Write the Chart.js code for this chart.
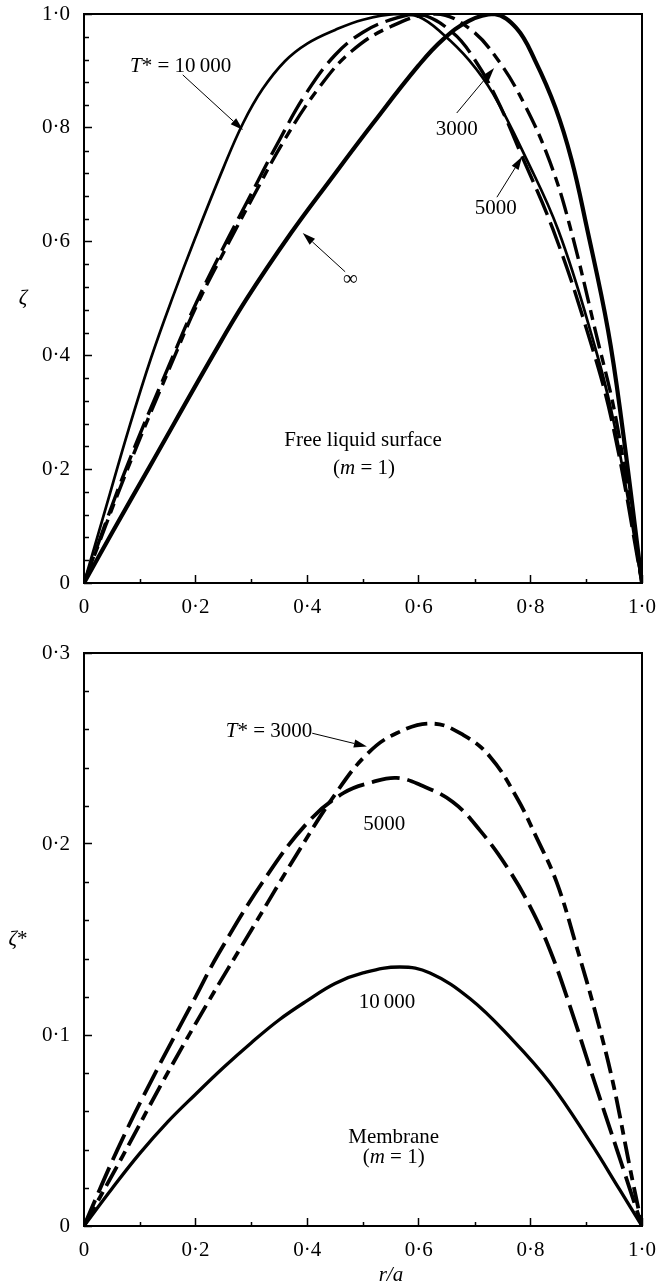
<!DOCTYPE html>
<html>
<head>
<meta charset="utf-8">
<script src="https://cdn.jsdelivr.net/npm/chart.js@4.4.0/dist/chart.umd.min.js"></script>
<style>
  html, body { margin: 0; padding: 0; background: #fff; }
  #wrap { position: relative; width: 659px; height: 1288px; }
  canvas { position: absolute; left: 0; }
  #surface { top: 0; }
  #membrane { top: 625px; }
</style>
</head>
<body>
<div id="wrap">
  <canvas id="surface" width="659" height="625"></canvas>
  <canvas id="membrane" width="659" height="663"></canvas>
</div>
<script>
// ---- axis ticks ----
const rTicks = [0, 0.2, 0.4, 0.6, 0.8, 1.0];
const rTickLabels = ['0', '0·2', '0·4', '0·6', '0·8', '1·0'];
const rMinorTicks = [0.1, 0.3, 0.5, 0.7, 0.9];

const surfZetaTicks = [0, 0.2, 0.4, 0.6, 0.8, 1.0];
const surfZetaLabels = ['0', '0·2', '0·4', '0·6', '0·8', '1·0'];
const surfZetaMinor = [0.04, 0.08, 0.12, 0.16, 0.24, 0.28, 0.32, 0.36, 0.44, 0.48,
                       0.52, 0.56, 0.64, 0.68, 0.72, 0.76, 0.84, 0.88, 0.92, 0.96];

const memZetaTicks = [0, 0.1, 0.2, 0.3];
const memZetaLabels = ['0', '0·1', '0·2', '0·3'];
const memZetaMinor = [0.02, 0.04, 0.06, 0.08, 0.12, 0.14, 0.16, 0.18, 0.22, 0.24, 0.26, 0.28];

// ---- free liquid surface (m = 1): ζ against r/a ----
const surfR10000 = [0, 0.04, 0.08, 0.12, 0.16, 0.2, 0.25, 0.285, 0.32, 0.36, 0.4, 0.45, 0.5, 0.56, 0.6, 0.643, 0.69, 0.733, 0.793, 0.85, 0.907, 0.95, 1.0];
const surfZ10000 = [0, 0.135, 0.27, 0.395, 0.505, 0.608, 0.73, 0.808, 0.868, 0.917, 0.948, 0.972, 0.99, 1.0, 0.995, 0.965, 0.919, 0.86, 0.745, 0.62, 0.445, 0.28, 0];

const surfR5000 = [0, 0.075, 0.16, 0.2, 0.25, 0.294, 0.351, 0.399, 0.45, 0.5, 0.55, 0.6, 0.66, 0.7, 0.74, 0.784, 0.841, 0.901, 0.947, 1.0];
const surfZ5000 = [0, 0.2, 0.4, 0.49, 0.59, 0.673, 0.78, 0.862, 0.928, 0.968, 0.99, 1.0, 0.968, 0.92, 0.85, 0.752, 0.62, 0.445, 0.28, 0];

const surfR3000 = [0, 0.078, 0.163, 0.203, 0.255, 0.3, 0.36, 0.423, 0.48, 0.55, 0.63, 0.69, 0.742, 0.79, 0.835, 0.87, 0.916, 0.955, 1.0];
const surfZ3000 = [0, 0.2, 0.4, 0.49, 0.59, 0.673, 0.78, 0.873, 0.935, 0.978, 1.0, 0.975, 0.919, 0.84, 0.74, 0.63, 0.445, 0.28, 0];

const surfRInf = [0, 0.05, 0.118, 0.231, 0.29, 0.371, 0.441, 0.518, 0.6, 0.643, 0.69, 0.735, 0.775, 0.808, 0.845, 0.874, 0.9, 0.939, 0.964, 1.0];
const surfZInf = [0, 0.088, 0.205, 0.4, 0.497, 0.615, 0.708, 0.808, 0.91, 0.955, 0.988, 1.0, 0.975, 0.919, 0.835, 0.743, 0.63, 0.445, 0.28, 0];

// ---- membrane (m = 1): ζ* against r/a ----
const memR10000 = [0, 0.05, 0.1, 0.15, 0.2, 0.25, 0.3, 0.35, 0.4, 0.45, 0.5, 0.566, 0.62, 0.692, 0.763, 0.835, 0.907, 0.96, 1.0];
const memZ10000 = [0, 0.0195, 0.038, 0.0545, 0.069, 0.083, 0.096, 0.108, 0.118, 0.127, 0.1325, 0.1356, 0.1325, 0.119, 0.099, 0.075, 0.044, 0.019, 0];

const memR5000 = [0, 0.06, 0.124, 0.2, 0.24, 0.32, 0.4, 0.465, 0.518, 0.56, 0.602, 0.661, 0.71, 0.758, 0.8, 0.835, 0.871, 0.912, 0.955, 1.0];
const memZ5000 = [0, 0.04, 0.078, 0.12, 0.142, 0.18, 0.211, 0.2267, 0.2325, 0.2346, 0.231, 0.222, 0.207, 0.188, 0.167, 0.1445, 0.115, 0.078, 0.04, 0];

const memR3000 = [0, 0.07, 0.142, 0.22, 0.3, 0.38, 0.45, 0.507, 0.56, 0.625, 0.68, 0.728, 0.775, 0.81, 0.847, 0.883, 0.919, 0.948, 0.978, 1.0];
const memZ3000 = [0, 0.037, 0.076, 0.116, 0.155, 0.194, 0.226, 0.247, 0.258, 0.263, 0.257, 0.2456, 0.2246, 0.204, 0.18, 0.146, 0.109, 0.075, 0.031, 0];

const FONT = '"Liberation Serif", "Times New Roman", serif';
const INK = '#000';

const pts = (rs, zs) => rs.map((r, i) => ({ x: r, y: zs[i] }));

function curve(data, width, dash) {
  return {
    data, borderColor: INK, borderWidth: width, borderDash: dash || [],
    pointRadius: 0, fill: false, tension: 0.4,
    borderCapStyle: 'butt', borderJoinStyle: 'round'
  };
}

function axis(min, max, values, labels, isX, fitSize) {
  return {
    type: 'linear', min, max, position: isX ? 'bottom' : 'left',
    afterBuildTicks: s => { s.ticks = values.map(v => ({ value: v })); },
    afterFit: s => {
      if (isX) s.height = fitSize; else s.width = fitSize;
      s.paddingTop = 0; s.paddingBottom = 0; s.paddingLeft = 0; s.paddingRight = 0;
    },
    ticks: {
      autoSkip: false, maxRotation: 0, minRotation: 0,
      padding: isX ? 20 : 22, color: INK,
      font: { family: FONT, size: 21 },
      callback: (v, i) => labels[i]
    },
    grid: { drawOnChartArea: false, tickLength: -8, tickColor: INK, tickWidth: 1.5, color: INK },
    border: { display: false }
  };
}

function drawRich(ctx, segs, x, y, align, size) {
  const fonts = segs.map(s => (s.it ? 'italic ' : '') + size + 'px ' + FONT);
  const widths = segs.map((s, i) => { ctx.font = fonts[i]; return ctx.measureText(s.s).width; });
  const total = widths.reduce((a, b) => a + b, 0);
  let sx = align === 'left' ? x : align === 'right' ? x - total : x - total / 2;
  ctx.textAlign = 'left';
  segs.forEach((s, i) => { ctx.font = fonts[i]; ctx.fillText(s.s, sx, y); sx += widths[i]; });
}

function drawArrow(ctx, x1, y1, x2, y2) {
  const ang = Math.atan2(y2 - y1, x2 - x1);
  const L = 13, W = 4;
  const bx = x2 - L * Math.cos(ang), by = y2 - L * Math.sin(ang);
  ctx.beginPath();
  ctx.moveTo(x1, y1);
  ctx.lineTo(bx, by);
  ctx.stroke();
  ctx.beginPath();
  ctx.moveTo(x2, y2);
  ctx.lineTo(bx + W * Math.sin(ang), by - W * Math.cos(ang));
  ctx.lineTo(bx - W * Math.sin(ang), by + W * Math.cos(ang));
  ctx.closePath();
  ctx.fill();
}

// frame, minor ticks, curve labels, arrows and axis titles
function makeDecor(cfg) {
  return {
    id: 'decor',
    afterDraw(chart) {
      const ctx = chart.ctx, xs = chart.scales.x, ys = chart.scales.y, a = chart.chartArea;
      ctx.save();
      ctx.strokeStyle = INK; ctx.fillStyle = INK;
      ctx.lineWidth = 2;
      ctx.strokeRect(a.left, a.top, a.right - a.left, a.bottom - a.top);

      ctx.lineWidth = 1.5;
      ctx.beginPath();
      cfg.minorX.forEach(v => {
        const px = Math.round(xs.getPixelForValue(v)) + 0.5;
        ctx.moveTo(px, a.bottom); ctx.lineTo(px, a.bottom - 4);
      });
      cfg.minorY.forEach(v => {
        const py = Math.round(ys.getPixelForValue(v)) + 0.5;
        ctx.moveTo(a.left, py); ctx.lineTo(a.left + 5, py);
      });
      ctx.stroke();

      ctx.lineWidth = 1;
      cfg.arrows.forEach(ar => {
        drawArrow(ctx, xs.getPixelForValue(ar[0]), ys.getPixelForValue(ar[1]),
                       xs.getPixelForValue(ar[2]), ys.getPixelForValue(ar[3]));
      });

      ctx.textBaseline = 'alphabetic';
      cfg.labels.forEach(l => {
        drawRich(ctx, l.segs, xs.getPixelForValue(l.r), ys.getPixelForValue(l.z), l.align || 'center', 21);
      });

      ctx.textBaseline = 'middle';
      drawRich(ctx, cfg.yTitle, a.left - cfg.yTitleOffset, (a.top + a.bottom) / 2, 'center', 21);
      if (cfg.xTitle) {
        ctx.textBaseline = 'alphabetic';
        drawRich(ctx, cfg.xTitle, xs.getPixelForValue(cfg.xTitleAt), a.bottom + cfg.xTitleDrop, 'center', 21);
      }
      ctx.restore();
    }
  };
}

Chart.defaults.font.family = FONT;

new Chart(document.getElementById('surface'), {
  type: 'line',
  data: {
    datasets: [
      curve(pts(surfRInf, surfZInf), 4.2),
      curve(pts(surfR10000, surfZ10000), 2.7),
      curve(pts(surfR5000, surfZ5000), 3.4, [28, 8]),
      curve(pts(surfR3000, surfZ3000), 3.4, [22, 7, 10, 7])
    ]
  },
  options: {
    responsive: false, animation: false, devicePixelRatio: 1,
    layout: { padding: { top: 14, right: 17, left: 0, bottom: 0 } },
    plugins: { legend: { display: false }, tooltip: { enabled: false } },
    scales: {
      x: axis(0, 1, rTicks, rTickLabels, true, 42),
      y: axis(0, 1, surfZetaTicks, surfZetaLabels, false, 84)
    }
  },
  plugins: [makeDecor({
    minorX: rMinorTicks, minorY: surfZetaMinor,
    arrows: [
      [0.177, 0.893, 0.285, 0.796],
      [0.668, 0.826, 0.735, 0.905],
      [0.74, 0.678, 0.785, 0.749],
      [0.468, 0.547, 0.392, 0.615]
    ],
    labels: [
      { segs: [{ s: 'T', it: true }, { s: '* = 10\u2009000' }], r: 0.0824, z: 0.898, align: 'left' },
      { segs: [{ s: '3000' }], r: 0.668, z: 0.787 },
      { segs: [{ s: '5000' }], r: 0.738, z: 0.6485 },
      { segs: [{ s: '\u221E' }], r: 0.477, z: 0.524 },
      { segs: [{ s: 'Free liquid surface' }], r: 0.5, z: 0.241 },
      { segs: [{ s: '(' }, { s: 'm', it: true }, { s: ' = 1)' }], r: 0.502, z: 0.1916 }
    ],
    yTitle: [{ s: '\u03B6', it: true }], yTitleOffset: 61
  })]
});

new Chart(document.getElementById('membrane'), {
  type: 'line',
  data: {
    datasets: [
      curve(pts(memR10000, memZ10000), 3.3),
      curve(pts(memR5000, memZ5000), 3.8, [28, 8]),
      curve(pts(memR3000, memZ3000), 3.8, [22, 7, 10, 7])
    ]
  },
  options: {
    responsive: false, animation: false, devicePixelRatio: 1,
    layout: { padding: { top: 28, right: 17, left: 0, bottom: 0 } },
    plugins: { legend: { display: false }, tooltip: { enabled: false } },
    scales: {
      x: axis(0, 1, rTicks, rTickLabels, true, 62),
      y: axis(0, 0.3, memZetaTicks, memZetaLabels, false, 84)
    }
  },
  plugins: [makeDecor({
    minorX: rMinorTicks, minorY: memZetaMinor,
    arrows: [
      [0.409, 0.258, 0.507, 0.251]
    ],
    labels: [
      { segs: [{ s: 'T', it: true }, { s: '* = 3000' }], r: 0.409, z: 0.256, align: 'right' },
      { segs: [{ s: '5000' }], r: 0.538, z: 0.2073 },
      { segs: [{ s: '10\u2009000' }], r: 0.543, z: 0.1141 },
      { segs: [{ s: 'Membrane' }], r: 0.555, z: 0.0435 },
      { segs: [{ s: '(' }, { s: 'm', it: true }, { s: ' = 1)' }], r: 0.555, z: 0.033 }
    ],
    yTitle: [{ s: '\u03B6', it: true }, { s: '*' }], yTitleOffset: 66,
    xTitle: [{ s: 'r/a', it: true }], xTitleAt: 0.55, xTitleDrop: 55
  })]
});
</script>
</body>
</html>
